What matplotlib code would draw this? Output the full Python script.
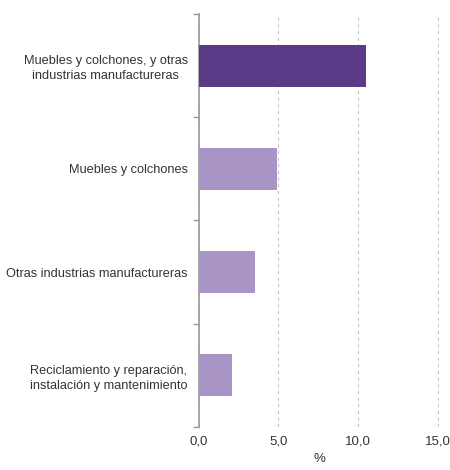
import numpy as np
import matplotlib.pyplot as plt

plt.rcParams['font.family'] = ['Liberation Sans', 'DejaVu Sans']

# datos
categorias = ['Muebles y colchones, y otras\nindustrias manufactureras',
              'Muebles y colchones',
              'Otras industrias manufactureras',
              'Reciclamiento y reparación,\ninstalación y mantenimiento']
valores = [10.5, 4.9, 3.5, 2.1]
colores = ['#5b3a87', '#a895c6', '#a895c6', '#a895c6']
xticks = [0, 5, 10, 15]
xtick_labels = ['0,0', '5,0', '10,0', '15,0']

fig = plt.figure(figsize=(4.5, 4.7), dpi=100)
ax = fig.add_axes([0.442, 0.092, 0.534, 0.878])

y = np.arange(len(categorias))
ax.barh(y, valores, height=0.41, color=colores, zorder=3)
ax.set_ylim(len(categorias) - 0.5, -0.5)
ax.set_xlim(0, 15.1)

# ticks de categoria en los limites
ax.set_yticks(np.arange(-0.5, len(categorias) + 0.5, 1))
ax.set_yticklabels([])
ax.set_yticks(y, minor=True)
ax.set_yticklabels(categorias, minor=True, fontsize=9.2, color='#333333',
                   ha='right', multialignment='center', linespacing=1.35)
ax.tick_params(axis='y', which='minor', length=0, pad=8)
ax.tick_params(axis='y', which='major', length=4, color='#999999', width=1)

ax.set_xticks(xticks)
ax.set_xticklabels(xtick_labels, fontsize=9.5, color='#333333')
ax.tick_params(axis='x', length=0, pad=6)
ax.set_xlabel('%', fontsize=9.5, color='#333333', labelpad=4)

ax.grid(axis='x', color='#c4c4c4', linestyle=(0, (3, 3)), linewidth=0.8, zorder=0)
ax.spines['top'].set_visible(False)
ax.spines['right'].set_visible(False)
ax.spines['bottom'].set_visible(False)
ax.spines['left'].set_color('#999999')
ax.spines['left'].set_linewidth(1.2)

fig.savefig('out.png', dpi=100)
